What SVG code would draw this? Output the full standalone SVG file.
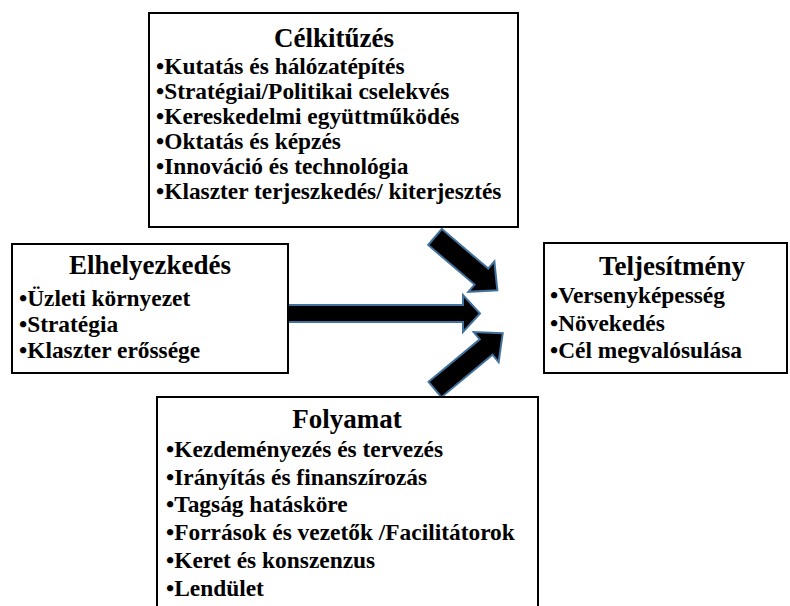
<svg xmlns="http://www.w3.org/2000/svg" width="790" height="606" viewBox="0 0 790 606">
  <style>
    .frame { fill: #ffffff; stroke: #000000; stroke-width: 2; }
    .blk { fill: #000000; stroke: #41719c; stroke-width: 2; stroke-linejoin: miter; }
    .hd { font-family: 'Liberation Serif', serif; font-weight: bold; font-size: 27px; text-anchor: middle; fill: #000000; }
    .li { font-family: 'Liberation Serif', serif; font-weight: bold; font-size: 23.4px; fill: #000000; }
  </style>
  <rect width="790" height="606" fill="#ffffff"/>
  <!-- thick block arrows pointing at the result box -->
  <g id="connectors">
    <polygon class="blk" transform="translate(435,237) rotate(40.5)" points="0,-10.5 61,-10.5 61,-20 82,0 61,20 61,10.5 0,10.5"/>
    <polygon class="blk" transform="translate(288,313.5)" points="0,-8.5 175,-8.5 175,-18.5 192,0 175,18.5 175,8.5 0,8.5"/>
    <polygon class="blk" transform="translate(435,389.5) rotate(-39.7)" points="0,-10 66.5,-10 66.5,-19.5 88,0 66.5,19.5 66.5,10 0,10"/>
  </g>
  <g id="celkituzes">
    <rect class="frame" x="149" y="13" width="369" height="214"/>
    <text class="hd" x="334" y="47">Célkitűzés</text>
    <text class="li" x="156" y="74">•Kutatás és hálózatépítés</text>
    <text class="li" x="156" y="99">•Stratégiai/Politikai cselekvés</text>
    <text class="li" x="156" y="124">•Kereskedelmi együttműködés</text>
    <text class="li" x="156" y="149">•Oktatás és képzés</text>
    <text class="li" x="156" y="174">•Innováció és technológia</text>
    <text class="li" x="156" y="199">•Klaszter terjeszkedés/ kiterjesztés</text>
  </g>
  <g id="elhelyezkedes">
    <rect class="frame" x="12" y="244" width="276" height="129"/>
    <text class="hd" x="150" y="274">Elhelyezkedés</text>
    <text class="li" x="19" y="306">•Üzleti környezet</text>
    <text class="li" x="19" y="332">•Stratégia</text>
    <text class="li" x="19" y="358">•Klaszter erőssége</text>
  </g>
  <g id="teljesitmeny">
    <rect class="frame" x="544" y="243" width="243" height="130"/>
    <text class="hd" x="672" y="275">Teljesítmény</text>
    <text class="li" x="550" y="303">•Versenyképesség</text>
    <text class="li" x="550" y="331">•Növekedés</text>
    <text class="li" x="550" y="358">•Cél megvalósulása</text>
  </g>
  <g id="folyamat">
    <rect class="frame" x="157" y="397" width="381" height="215"/>
    <text class="hd" x="347" y="428">Folyamat</text>
    <text class="li" x="166" y="457">•Kezdeményezés és tervezés</text>
    <text class="li" x="166" y="485">•Irányítás és finanszírozás</text>
    <text class="li" x="166" y="512">•Tagság hatásköre</text>
    <text class="li" x="166" y="540">•Források és vezetők /Facilitátorok</text>
    <text class="li" x="166" y="568">•Keret és konszenzus</text>
    <text class="li" x="166" y="596">•Lendület</text>
  </g>
</svg>
